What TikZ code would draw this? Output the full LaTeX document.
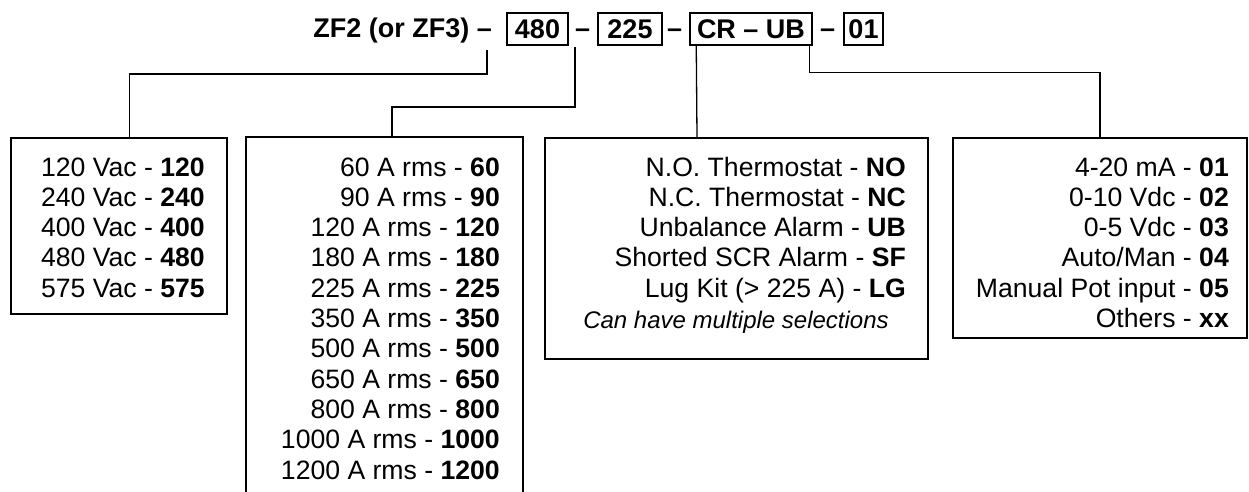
\documentclass[tikz,border=0pt]{standalone}
\usepackage{fontspec}
\setmainfont{Liberation Sans}
\usetikzlibrary{calc}
\newcommand\ttlfont{\fontsize{27}{31}\selectfont\bfseries}
\newcommand\bodyfont{\fontsize{26.6}{30}\selectfont}
\newcommand\notefont{\fontsize{24}{28}\selectfont\itshape}
\begin{document}
\begin{tikzpicture}[x=1pt,y=-1pt,
  boxline/.style={line width=1.7pt},
  optbox/.style={boxline,draw,inner sep=0pt,anchor=north west},
  keybox/.style={draw,line width=1.5pt,font=\ttlfont,inner sep=0pt,text height=19pt,text depth=0pt,minimum height=32pt},
  ttl/.style={font=\ttlfont,inner sep=0pt,anchor=base},
  conn/.style={line width=1.3pt},
  rowtxt/.style={font=\bodyfont,inner sep=0pt,anchor=base east}]
\useasboundingbox (0,0) rectangle (1249,491);
\fill[white] (0,0) rectangle (1249,491);

% title
\node[ttl,anchor=base east] (t0) at (492,37.5) {ZF2 (or ZF3) --};
\node[keybox,minimum width=61pt] (k1) at (537.5,29) {480};
\node[ttl] (d1) at (582.5,37.5) {--};
\node[keybox,minimum width=64pt] (k2) at (630,29) {225};
\node[ttl] (d2) at (674.5,37.5) {--};
\node[keybox,minimum width=122pt] (k3) at (751,29) {CR -- UB};
\node[ttl] (d3) at (827.5,37.5) {--};
\node[keybox,minimum width=39pt] (k4) at (863.5,29) {01};

% option boxes
\node[optbox,minimum width=216pt,minimum height=176pt] (b1) at (10,137) {};
\node[optbox,draw=none,minimum width=275pt,minimum height=354pt] (b2) at (246,137) {};
\draw[boxline] (b2.south west) -- (b2.north west) -- (b2.north east) -- (b2.south east);
\node[optbox,minimum width=383pt,minimum height=221pt] (b3) at (544,137) {};
\node[optbox,minimum width=294pt,minimum height=200pt] (b4) at (952,137) {};

% connectors
\coordinate (c1s) at (487,50);
\coordinate (c2s) at (575,47);
\draw[conn] (c1s) -- ++(0,24) -| ([xshift=119.5pt]b1.north west);
\draw[conn] (c2s) -- ++(0,60) -| ([xshift=146pt]b2.north west);
\draw[conn] ([xshift=7pt]k3.south west) -- ([xshift=153pt]b3.north west);
\draw[conn] ([xshift=-3pt]k3.south east) -- ++(0,27) -| (b4.north);

% box 1
\foreach \a/\b [count=\i] in {120 Vac/120,240 Vac/240,400 Vac/400,480 Vac/480,575 Vac/575}
  \node[rowtxt] (ra\i) at (205,{176+30.3*(\i-1)}) {\a\ - \textbf{\b}};
% box 2
\foreach \a/\b [count=\i] in {60/60,90/90,120/120,180/180,225/225,350/350,500/500,650/650,800/800,1000/1000,1200/1200}
  \node[rowtxt] (rb\i) at (500,{176+30.3*(\i-1)}) {\a\ A rms - \textbf{\b}};
% box 3
\foreach \a/\b [count=\i] in {N.O. Thermostat/NO,N.C. Thermostat/NC,Unbalance Alarm/UB,Shorted SCR Alarm/SF,{Lug Kit (> 225 A)}/LG}
  \node[rowtxt] (rc\i) at (906,{176+30.3*(\i-1)}) {\a\ - \textbf{\b}};
\node[font=\notefont,inner sep=0pt,anchor=base] (note) at (736,328) {Can have multiple selections};
% box 4
\foreach \a/\b [count=\i] in {4-20 mA/01,0-10 Vdc/02,0-5 Vdc/03,{Auto/Man}/04,Manual Pot input/05,Others/xx}
  \node[rowtxt] (rd\i) at (1229,{176+30.3*(\i-1)}) {\a\ - \textbf{\b}};
\end{tikzpicture}
\end{document}
